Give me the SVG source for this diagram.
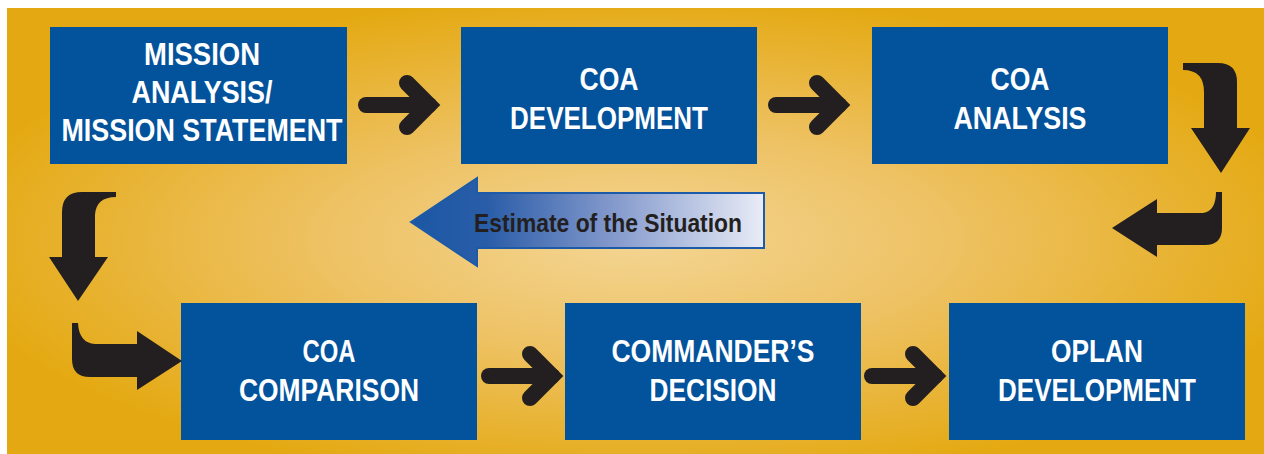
<svg xmlns="http://www.w3.org/2000/svg" xmlns:xlink="http://www.w3.org/1999/xlink" width="1264" height="454" viewBox="0 0 1264 454">
  <defs>
    <radialGradient id="bgGrad" cx="0.5" cy="0.52" r="0.55">
      <stop offset="0" stop-color="#f3d593"/>
      <stop offset="0.45" stop-color="#eec264"/>
      <stop offset="1" stop-color="#e4a912"/>
    </radialGradient>
    <linearGradient id="estGrad" gradientUnits="userSpaceOnUse" x1="410" y1="0" x2="764" y2="0">
      <stop offset="0" stop-color="#1b57a4"/>
      <stop offset="0.22" stop-color="#2a5da8"/>
      <stop offset="0.55" stop-color="#7e95ca"/>
      <stop offset="1" stop-color="#e9ecf6"/>
    </linearGradient>
    <!-- straight connector arrow: rounded shaft with chevron head, tip at x=82 -->
    <g id="straightArrow">
      <line x1="8" y1="0" x2="71" y2="0" stroke="#231f20" stroke-width="16" stroke-linecap="round"/>
      <polyline points="49,-22 71,0 49,22" fill="none" stroke="#231f20" stroke-width="16" stroke-linecap="round" stroke-linejoin="miter" stroke-miterlimit="4"/>
    </g>
  </defs>
  <style>
    .box { fill: #03529c; }
    .label { fill: #ffffff; font-family: "Liberation Sans", Arial, sans-serif; font-weight: bold; font-size: 31px; text-anchor: middle; }
    .bent { fill: #231f20; }
    .est { fill: #231f20; font-family: "Liberation Sans", Arial, sans-serif; font-weight: bold; font-size: 26px; }
  </style>

  <rect x="0" y="0" width="1264" height="454" fill="#ffffff"/>
  <rect x="7" y="8" width="1257" height="446" fill="url(#bgGrad)"/>

  <!-- central banner -->
  <g id="estimate">
    <path d="M411,222 L477,178 L477,193 L764,193 L764,248 L477,248 L477,266 Z" fill="url(#estGrad)" stroke="#1d5aa7" stroke-width="2" stroke-linejoin="miter"/>
    <text class="est" x="474" y="232" textLength="268" lengthAdjust="spacingAndGlyphs">Estimate of the Situation</text>
  </g>

  <g id="mission-analysis">
    <rect class="box" x="50" y="27" width="297" height="137"/>
    <text class="label" x="202" y="65" textLength="116" lengthAdjust="spacingAndGlyphs">MISSION</text>
    <text class="label" x="202" y="103" textLength="141" lengthAdjust="spacingAndGlyphs">ANALYSIS/</text>
    <text class="label" x="202" y="141" textLength="281" lengthAdjust="spacingAndGlyphs">MISSION STATEMENT</text>
  </g>

  <g id="coa-development">
    <rect class="box" x="461" y="27" width="296" height="137"/>
    <text class="label" x="609" y="90" textLength="59" lengthAdjust="spacingAndGlyphs">COA</text>
    <text class="label" x="609" y="129" textLength="198" lengthAdjust="spacingAndGlyphs">DEVELOPMENT</text>
  </g>

  <g id="coa-analysis">
    <rect class="box" x="872" y="27" width="296" height="137"/>
    <text class="label" x="1020" y="90" textLength="59" lengthAdjust="spacingAndGlyphs">COA</text>
    <text class="label" x="1020" y="129" textLength="133" lengthAdjust="spacingAndGlyphs">ANALYSIS</text>
  </g>

  <g id="coa-comparison">
    <rect class="box" x="181" y="303" width="296" height="137"/>
    <text class="label" x="329" y="362" textLength="53" lengthAdjust="spacingAndGlyphs">COA</text>
    <text class="label" x="329" y="401" textLength="180" lengthAdjust="spacingAndGlyphs">COMPARISON</text>
  </g>

  <g id="commanders-decision">
    <rect class="box" x="565" y="303" width="296" height="137"/>
    <text class="label" x="713" y="362" textLength="203" lengthAdjust="spacingAndGlyphs">COMMANDER’S</text>
    <text class="label" x="713" y="401" textLength="127" lengthAdjust="spacingAndGlyphs">DECISION</text>
  </g>

  <g id="oplan-development">
    <rect class="box" x="949" y="303" width="296" height="137"/>
    <text class="label" x="1097" y="362" textLength="92" lengthAdjust="spacingAndGlyphs">OPLAN</text>
    <text class="label" x="1097" y="401" textLength="198" lengthAdjust="spacingAndGlyphs">DEVELOPMENT</text>
  </g>

  <g id="connectors">
    <use xlink:href="#straightArrow" transform="translate(358,105)"/>
    <use xlink:href="#straightArrow" transform="translate(768,105)"/>
    <use xlink:href="#straightArrow" transform="translate(481,376)"/>
    <use xlink:href="#straightArrow" transform="translate(864,376)"/>
    <!-- right side: down, then back to the left -->
    <path class="bent" d="M1183,63 H1218 Q1237,63 1237,82 V128 H1250 L1221,173 L1191,128 H1204 V92 Q1204,70 1183,70 Z"/>
    <path class="bent" d="M1216,192 H1222 V228 Q1222,245 1205,245 H1157 V257 L1112,228 L1157,199 V213 H1203 Q1216,211 1216,192 Z"/>
    <!-- left side: down, then right into the bottom row -->
    <path class="bent" d="M116,192 V197 Q96,197 95,215 V257 H108 L78,301 L49,257 H62 V212 Q62,192 82,192 Z"/>
    <path class="bent" d="M72,323 H78 Q79,343 95,344 H137 V331 L182,361 L137,390 V377 H90 Q72,377 72,359 Z"/>
  </g>
</svg>
